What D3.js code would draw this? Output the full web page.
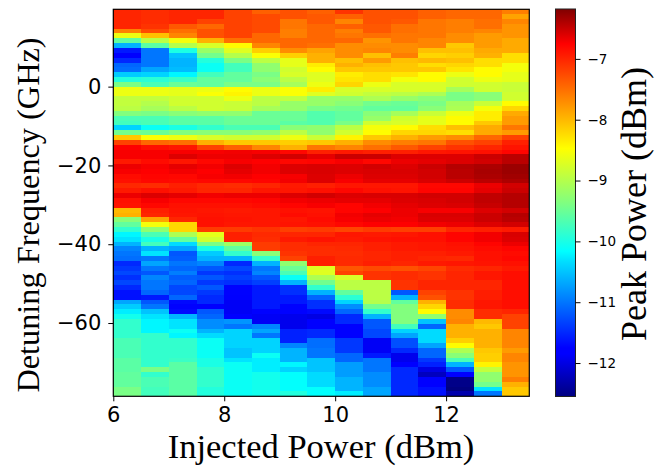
<!DOCTYPE html>
<html>
<head>
<meta charset="utf-8">
<script src="https://cdnjs.cloudflare.com/ajax/libs/d3/7.8.5/d3.min.js"></script>
<style>
html, body { margin: 0; padding: 0; background: #fff; }
svg { display: block; }
.tick line, .domain { stroke: #000; }
.serif { font-family: "Liberation Serif", serif; fill: #000; }
</style>
</head>
<body>
<div id="chart"></div>
<script>
// injected power of each column (left edge), dBm
var injectedPower = [6, 6.5, 7, 7.5, 8, 8.5, 9, 9.5, 10, 10.5, 11, 11.5, 12, 12.5, 13];
var powerStep = 0.5;

// detuning of each row (top edge), GHz
var detuning = [19.63, 18.40, 17.17, 15.95, 14.72, 13.49, 12.26, 11.03, 9.81, 8.58,
    7.35, 6.12, 4.89, 3.67, 2.44, 1.21, -0.02, -1.25, -2.47, -3.70,
    -4.93, -6.16, -7.39, -8.61, -9.84, -11.07, -12.30, -13.53, -14.75, -15.98,
    -17.21, -18.44, -19.67, -20.89, -22.12, -23.35, -24.58, -25.81, -27.03, -28.26,
    -29.49, -30.72, -31.95, -33.17, -34.40, -35.63, -36.86, -38.09, -39.31, -40.54,
    -41.77, -43.00, -44.23, -45.45, -46.68, -47.91, -49.14, -50.37, -51.59, -52.82,
    -54.05, -55.28, -56.51, -57.73, -58.96, -60.19, -61.42, -62.65, -63.87, -65.10,
    -66.33, -67.56, -68.79, -70.01, -71.24, -72.47, -73.70, -74.93, -76.15, -77.38];
var detuningStep = 1.228;

// peak power, one list per injected power, top row first
var peak6_0 = [-7,-7,-7,-7,-7.63,-8.6,-9.55,-10.6,-11.6,-11.85,-11.5,-11.1,-11.05,-10.45,-9.95,-9.4,-8.6,-8.6,-8.9,-8.9,-8.95,-9.35,-9.7,-9.75,-10.4,-9.45,-8.1,-7.2,-6.75,
    -6.72,-6.72,-6.92,-6.67,-6.72,-6.83,-6.86,-7.02,-6.92,-6.67,-6.86,-6.88,-8,-7.95,-9.3,-9.55,-9.85,-10.2,-10.3,-10.6,-10.9,-11,-11.05,-11.5,-11.4,
    -11.3,-11.45,-11.3,-11.5,-11.65,-11.65,-10.7,-10.45,-10.25,-10.05,-9.85,-9.85,-9.85,-9.85,-9.7,-9.7,-9.7,-9.7,-9.6,-9.6,-9.6,-9.55,-9.55,-9.55,-9.4,-9.4];
var peak6_5 = [-7.05,-7.05,-7.05,-7.1,-7.25,-8.05,-8.95,-9.6,-11,-11,-11,-11,-10.7,-10.4,-9.9,-9.7,-8.6,-8.6,-8.9,-9,-9.1,-9.4,-9.7,-9.7,-10.1,-9.5,-8.5,-7.45,-6.85,
    -6.72,-6.72,-6.83,-6.72,-6.75,-6.78,-6.8,-7.05,-6.86,-6.6,-6.72,-6.8,-6.96,-7,-7.85,-8.55,-9.25,-9.7,-10,-9.75,-10.6,-10.3,-11,-10.7,-11,
    -11.2,-10.9,-11,-11,-11.1,-11.6,-11.2,-11,-10.5,-10.3,-10.2,-10.2,-10.2,-9.85,-9.85,-9.85,-9.85,-9.85,-9.85,-9.85,-9.4,-9.85,-9.7,-9.7,-9.75,-9.75];
var peak7_0 = [-7,-7,-7,-7.35,-7.5,-7.65,-8.55,-9,-10,-10.5,-10.6,-10.6,-10.55,-10.2,-9.8,-9.5,-8.65,-8.65,-8.8,-8.8,-8.95,-9.3,-9.6,-9.6,-10,-9.35,-8.6,-7.5,-6.9,
    -6.72,-6.6,-6.9,-6.64,-6.7,-6.8,-6.83,-6.96,-6.92,-6.64,-6.8,-6.86,-6.88,-6.9,-7,-8.2,-8.2,-9.05,-9.55,-10.35,-10.7,-11.2,-11.15,-11,-11.1,
    -10.95,-11.15,-11.1,-11.3,-11.3,-11.1,-11.7,-11.75,-11.7,-10.6,-10.3,-10.3,-10.1,-10.2,-9.85,-9.85,-9.85,-9.85,-9.8,-9.6,-9.6,-9.6,-9.6,-9.6,-9.6,-9.6];
var peak7_5 = [-7,-7,-7.2,-7.45,-7.3,-7.3,-7.95,-8.75,-9.2,-9.45,-9.95,-10.1,-10.1,-9.75,-9.55,-9.55,-8.6,-8.5,-8.8,-8.8,-8.8,-9.25,-9.6,-9.6,-9.85,-9.3,-8.75,-7.95,-7.2,
    -6.72,-6.67,-6.8,-6.7,-6.75,-6.72,-6.8,-7.02,-7,-6.7,-6.8,-6.86,-6.9,-6.88,-6.86,-6.86,-7.15,-8.65,-8.8,-9.4,-10,-10.45,-10.6,-10.9,-11.2,
    -11.4,-11.2,-11.4,-11.2,-11.4,-11.5,-11.5,-11.85,-11.2,-11.1,-10.85,-10.85,-10.6,-10.35,-10.1,-10.1,-10.1,-10.1,-10,-10,-9.85,-9.85,-9.85,-9.85,-9.95,-9.95];
var peak8_0 = [-7.2,-7.2,-7.2,-7.2,-7.2,-7.2,-7.5,-8.45,-8.7,-9,-9.4,-9.75,-9.75,-9.55,-9.55,-9.4,-8.45,-8.4,-8.6,-8.85,-8.85,-9.25,-9.5,-9.5,-9.7,-9.3,-8.8,-8.1,-7.4,
    -6.7,-6.67,-6.72,-6.6,-6.64,-6.7,-6.8,-7.05,-7,-6.67,-6.8,-6.86,-6.92,-6.9,-6.88,-6.9,-7.15,-6.96,-6.96,-9.15,-9.55,-9.85,-10.6,-11.5,-11.3,
    -11.45,-11.35,-11.45,-11.75,-11.75,-11.85,-11.9,-11.9,-11.9,-11.85,-10.8,-11,-10.4,-10.4,-10.4,-10.4,-10.5,-10.5,-10.3,-10.1,-10.1,-10.1,-10.1,-10.1,-10.1,-10.1];
var peak8_5 = [-7.4,-7.25,-7.25,-7.25,-7.25,-7.45,-7.45,-7.65,-8.15,-8.5,-8.95,-9.25,-9.25,-9.4,-9.3,-9.4,-8.6,-8.6,-8.95,-8.95,-9.1,-9.5,-9.5,-9.5,-9.7,-9.25,-8.8,-8.1,-7.65,
    -6.72,-6.6,-6.75,-6.7,-6.7,-6.75,-6.78,-7,-6.9,-6.67,-6.78,-6.83,-6.9,-6.9,-6.9,-6.9,-7.1,-7.03,-7.05,-7.15,-7.15,-9.3,-9.85,-10.6,-11,
    -10.9,-11.2,-11.35,-11.6,-11.6,-11.6,-11.6,-11.6,-11.75,-11.9,-11.9,-10.9,-10.7,-11,-10.4,-10.4,-10.4,-10.1,-10.25,-10.25,-10.25,-10.05,-10.05,-10.05,-10.05,-10.05];
var peak9_0 = [-7.3,-7.3,-7.55,-7.55,-7.6,-7.6,-7.45,-7.45,-7.7,-8.15,-8.65,-8.65,-8.8,-8.75,-8.95,-9.1,-8.5,-8.5,-8.9,-9.2,-9.2,-9.5,-9.5,-9.6,-9.3,-8.95,-8.6,-8.15,-7.95,
    -6.8,-6.55,-6.8,-6.6,-6.6,-6.72,-6.7,-6.92,-6.9,-6.6,-6.7,-6.78,-6.86,-6.83,-6.9,-6.88,-7.18,-7,-6.92,-7.05,-7.05,-7.1,-7.2,-9.25,-9.5,
    -9.7,-10.1,-10.6,-11.45,-11.45,-11.6,-11.6,-11.75,-11.75,-11.95,-11.95,-11.95,-11.55,-11.55,-11.55,-10.9,-10.6,-10.6,-10.6,-10.2,-10.4,-10.15,-10.15,-10.15,-10.15,-9.95];
var peak9_5 = [-7.4,-7.35,-7.35,-7.45,-7.45,-7.45,-7.45,-7.5,-7.85,-7.95,-7.95,-8.35,-8.45,-8.7,-8.7,-8.6,-8.35,-8.7,-9.2,-9.2,-9.4,-9.65,-9.65,-9.65,-9.25,-9.25,-8.85,-8.1,-7.55,
    -6.97,-6.64,-6.78,-6.58,-6.58,-6.6,-6.6,-6.96,-6.86,-6.55,-6.67,-6.72,-6.88,-6.86,-6.83,-6.86,-7.15,-7,-6.88,-7,-7.05,-7.05,-6.96,-6.96,-8.7,
    -8.7,-9.05,-9.45,-9.85,-10.6,-11.1,-11.45,-11.45,-11.7,-12,-11.85,-11.85,-11.5,-11.5,-11.05,-11.05,-11,-11,-10.5,-10.5,-10.5,-10.35,-10.35,-10.35,-10.15,-10.15];
var peak10_0 = [-7.1,-7.4,-7.65,-7.4,-7.6,-7.55,-7.45,-7.7,-7.7,-7.7,-8.05,-7.95,-8.1,-8.35,-8.3,-8.2,-8.75,-8.8,-9.2,-9.3,-9.45,-9.55,-9.55,-9.4,-8.95,-8.8,-8.4,-7.95,-7.65,
    -6.92,-6.52,-6.72,-6.6,-6.6,-6.67,-6.72,-6.9,-6.8,-6.6,-6.64,-6.78,-6.78,-6.7,-6.72,-6.8,-7.22,-6.9,-6.92,-7,-7.03,-7.05,-7.03,-7.03,-7.33,
    -7.2,-8.75,-8.95,-8.95,-9.55,-9.9,-10.4,-10.85,-11.1,-11.5,-11.5,-11.85,-11.85,-11.85,-11.4,-11.4,-11.4,-11.1,-11.1,-10.75,-10.75,-10.75,-10.6,-10.6,-10.6,-10.25];
var peak10_5 = [-7.3,-7.3,-7.3,-7.35,-7.35,-7.5,-7.75,-7.7,-7.65,-8.05,-7.8,-8.05,-8.1,-8.25,-8.25,-8.6,-8.75,-8.9,-9.05,-9.45,-9.55,-9.3,-9.2,-8.8,-8.55,-8.45,-8.1,-7.7,-7.5,
    -6.96,-6.52,-6.8,-6.55,-6.58,-6.6,-6.64,-6.9,-6.86,-6.58,-6.64,-6.7,-6.75,-6.64,-6.67,-6.75,-7.15,-6.92,-6.88,-6.96,-6.96,-7,-7,-6.96,-7.25,
    -7.1,-7.1,-8.95,-8.95,-8.95,-8.95,-9,-9.45,-9.85,-10.6,-11.2,-11.2,-11.3,-11.3,-11.9,-11.9,-11.9,-11.6,-11,-11,-11,-10.85,-10.85,-10.85,-10.7,-10.7];
var peak11_0 = [-7.3,-7.3,-7.35,-7.5,-7.5,-7.55,-7.55,-7.7,-7.7,-7.6,-8.05,-8.1,-8.1,-8.3,-8.55,-8.75,-8.75,-8.95,-9.2,-9.5,-9.55,-9.1,-8.8,-8.75,-8.45,-8.2,-7.95,-7.6,-7.35,
    -6.96,-6.6,-6.67,-6.6,-6.58,-6.6,-6.64,-6.9,-6.88,-6.58,-6.6,-6.64,-6.67,-6.67,-6.7,-6.75,-7.18,-6.9,-6.86,-6.92,-6.92,-6.96,-6.96,-7,-7.3,
    -7.05,-7.05,-7.1,-7.1,-11.2,-10.6,-9.55,-9.35,-9.35,-9.35,-9.35,-9.75,-10.4,-10.7,-11.25,-11.25,-11.5,-11.95,-11.95,-11.8,-11.5,-11.5,-11.5,-11.5,-11.5,-11.5];
var peak11_5 = [-7.4,-7.4,-7.55,-7.55,-7.55,-7.55,-7.65,-7.65,-8.05,-8.2,-8,-8.25,-8.1,-8.45,-8.45,-8.75,-8.75,-9.05,-9.3,-9.4,-9.3,-8.85,-8.65,-8.65,-8.25,-8.2,-7.8,-7.55,-7.2,
    -6.9,-6.6,-6.64,-6.52,-6.55,-6.55,-6.58,-6.8,-6.78,-6.55,-6.58,-6.6,-6.72,-6.58,-6.6,-6.7,-7.18,-6.86,-6.86,-6.9,-6.9,-6.96,-7,-6.92,-7.22,
    -7.1,-7.1,-7,-7,-7.2,-7.3,-7.95,-8.2,-8.45,-9.25,-10.5,-11.1,-10.35,-10.35,-10.35,-10.7,-11.1,-11.1,-11.4,-11.55,-12,-12.2,-11.85,-11.85,-11.65,-11.65];
var peak12_0 = [-7.45,-7.45,-7.6,-7.6,-7.6,-7.7,-7.7,-8.1,-8.05,-8.15,-8.05,-8.2,-8.3,-8.6,-8.8,-8.8,-9.1,-9.4,-9.4,-9.1,-9.05,-8.6,-8.45,-8.45,-8.05,-8.25,-7.7,-7.3,-7.1,
    -6.88,-6.6,-6.6,-6.42,-6.44,-6.44,-6.52,-6.8,-6.78,-6.55,-6.55,-6.58,-6.72,-6.58,-6.6,-6.67,-7,-6.78,-6.78,-6.86,-6.88,-6.92,-7.02,-6.9,-7.05,
    -7,-7,-7,-7,-7.1,-7.1,-7.05,-7.05,-7.7,-7.7,-7.65,-7.95,-7.95,-7.95,-8.15,-8.45,-9.05,-9.3,-9.7,-10.6,-11.2,-11.85,-12.5,-12.5,-12.55,-12.3];
var peak12_5 = [-7.45,-7.45,-7.5,-7.5,-7.65,-7.8,-7.8,-7.8,-7.9,-7.95,-8.25,-8.25,-8.45,-8.45,-8.6,-8.8,-8.8,-9.3,-9.3,-8.85,-8.55,-8.35,-8.35,-8.1,-7.9,-7.9,-7.45,-7.2,-7,
    -6.86,-6.52,-6.55,-6.38,-6.36,-6.38,-6.44,-6.67,-6.64,-6.47,-6.47,-6.5,-6.6,-6.52,-6.52,-6.6,-6.96,-6.7,-6.7,-6.78,-6.83,-6.86,-6.86,-6.88,-7,
    -6.9,-6.9,-7,-7,-6.95,-6.95,-6.9,-6.9,-7.05,-7.05,-8,-8.1,-7.95,-7.95,-7.95,-7.95,-8.1,-8.15,-8.15,-8.4,-8.9,-9.25,-9.25,-9.45,-10.3,-11];
var peak13_0 = [-7.6,-7.85,-7.65,-7.75,-7.75,-7.75,-7.9,-7.9,-7.9,-8.25,-8.25,-8.55,-8.55,-8.65,-8.65,-8.85,-8.85,-8.8,-8.8,-8.45,-8.2,-7.9,-7.8,-7.8,-7.55,-7.8,-7.2,-6.97,-6.88,
    -6.78,-6.44,-6.44,-6.3,-6.3,-6.33,-6.38,-6.55,-6.52,-6.42,-6.42,-6.42,-6.55,-6.42,-6.44,-6.55,-6.92,-6.58,-6.6,-6.67,-6.78,-6.83,-6.8,-6.86,-6.92,
    -6.85,-6.85,-6.85,-6.85,-6.85,-6.85,-6.85,-6.85,-7,-7.2,-7.2,-7.2,-7.65,-7.65,-7.65,-7.65,-7.8,-7.65,-7.65,-7.75,-7.75,-7.75,-7.6,-7.95,-8.1,-8.1];

var peakColumns = [peak6_0, peak6_5, peak7_0, peak7_5, peak8_0, peak8_5, peak9_0, peak9_5,
    peak10_0, peak10_5, peak11_0, peak11_5, peak12_0, peak12_5, peak13_0];

var xTicks = [6, 8, 10, 12];
var yTicks = [0, -20, -40, -60];
var barTicks = [-7, -8, -9, -10, -11, -12];

var peakMin = -12.55, peakMax = -6.18;

// jet colormap
var jetStops = [
    [0, "#000080"], [0.11, "#0000ff"], [0.125, "#0000ff"], [0.35, "#00e0ff"], [0.375, "#00ffff"],
    [0.5, "#80ff80"], [0.64, "#ffff00"], [0.91, "#ff0000"], [1, "#800000"]
];
var colorScale = d3.scaleLinear()
    .domain(jetStops.map(function(d) { return peakMin + d[0] * (peakMax - peakMin); }))
    .range(jetStops.map(function(d) { return d[1]; }))
    .clamp(true);

var width = 668, height = 467;
var plot = { left: 113.3, right: 529.3, top: 9.3, bottom: 396.3 };
var bar = { left: 555.5, right: 575.5, top: 9, bottom: 396.5 };

var svg = d3.select("#chart").append("svg")
    .attr("width", width)
    .attr("height", height);

var x = d3.scaleLinear().domain([6, 13.5]).range([plot.left, plot.right]);
var y = d3.scaleLinear().domain([19.63, -78.6]).range([plot.top, plot.bottom]);
var barY = d3.scaleLinear().domain([peakMax, peakMin]).range([bar.top, bar.bottom]);

// heat map cells
var columns = svg.append("g").selectAll("g")
    .data(injectedPower)
    .enter().append("g");

columns.selectAll("rect")
    .data(function(p, i) {
        return peakColumns[i].map(function(v, j) {
            return { power: p, detuning: detuning[j], value: v };
        });
    })
    .enter().append("rect")
    .attr("x", function(d) { return x(d.power); })
    .attr("y", function(d) { return y(d.detuning); })
    .attr("width", function(d) { return x(d.power + powerStep) - x(d.power); })
    .attr("height", function(d) { return y(d.detuning - detuningStep) - y(d.detuning); })
    .attr("shape-rendering", "crispEdges")
    .style("fill", function(d) { return colorScale(d.value); });

// axes
var xAxis = d3.axisBottom(x).tickValues(xTicks).tickFormat(d3.format("d")).tickSize(5).tickPadding(6).tickSizeOuter(0);
var yAxis = d3.axisLeft(y).tickValues(yTicks).tickSize(5).tickPadding(7).tickSizeOuter(0);

var xg = svg.append("g").attr("transform", "translate(0," + plot.bottom + ")").call(xAxis);
var yg = svg.append("g").attr("transform", "translate(" + plot.left + ",0)").call(yAxis);
xg.select(".domain").remove();
yg.select(".domain").remove();
xg.selectAll("text").style("font-family", "DejaVu Sans").style("font-size", "21px").style("fill", "#000");
yg.selectAll("text").style("font-family", "DejaVu Sans").style("font-size", "21px").style("fill", "#000");

svg.append("rect")
    .attr("x", plot.left).attr("y", plot.top)
    .attr("width", plot.right - plot.left).attr("height", plot.bottom - plot.top)
    .style("fill", "none").style("stroke", "#000").style("stroke-width", 1.2);

// colour bar
var defs = svg.append("defs");
var gradient = defs.append("linearGradient")
    .attr("id", "jet")
    .attr("x1", 0).attr("y1", 1).attr("x2", 0).attr("y2", 0);
gradient.selectAll("stop")
    .data(jetStops)
    .enter().append("stop")
    .attr("offset", function(d) { return d[0]; })
    .attr("stop-color", function(d) { return d[1]; });

svg.append("rect")
    .attr("x", bar.left).attr("y", bar.top)
    .attr("width", bar.right - bar.left).attr("height", bar.bottom - bar.top)
    .style("fill", "url(#jet)").style("stroke", "#222").style("stroke-width", 1);

var barAxis = d3.axisRight(barY).tickValues(barTicks).tickFormat(d3.format("d")).tickSize(5).tickPadding(7).tickSizeOuter(0);
var barG = svg.append("g").attr("transform", "translate(" + bar.right + ",0)").call(barAxis);
barG.select(".domain").remove();
barG.selectAll("text").style("font-family", "DejaVu Sans").style("font-size", "13.5px").style("fill", "#000");

// axis titles
svg.append("text")
    .attr("class", "serif")
    .attr("x", 321)
    .attr("y", 458)
    .style("text-anchor", "middle")
    .style("font-size", "34.5px")
    .text("Injected Power (dBm)");

svg.append("text")
    .attr("class", "serif")
    .attr("transform", "translate(39,215) rotate(-90)")
    .style("text-anchor", "middle")
    .style("font-size", "32.3px")
    .text("Detuning Frequency (GHz)");

svg.append("text")
    .attr("class", "serif")
    .attr("transform", "translate(646,204) rotate(-90)")
    .style("text-anchor", "middle")
    .style("font-size", "36px")
    .text("Peak Power (dBm)");
</script>
</body>
</html>
